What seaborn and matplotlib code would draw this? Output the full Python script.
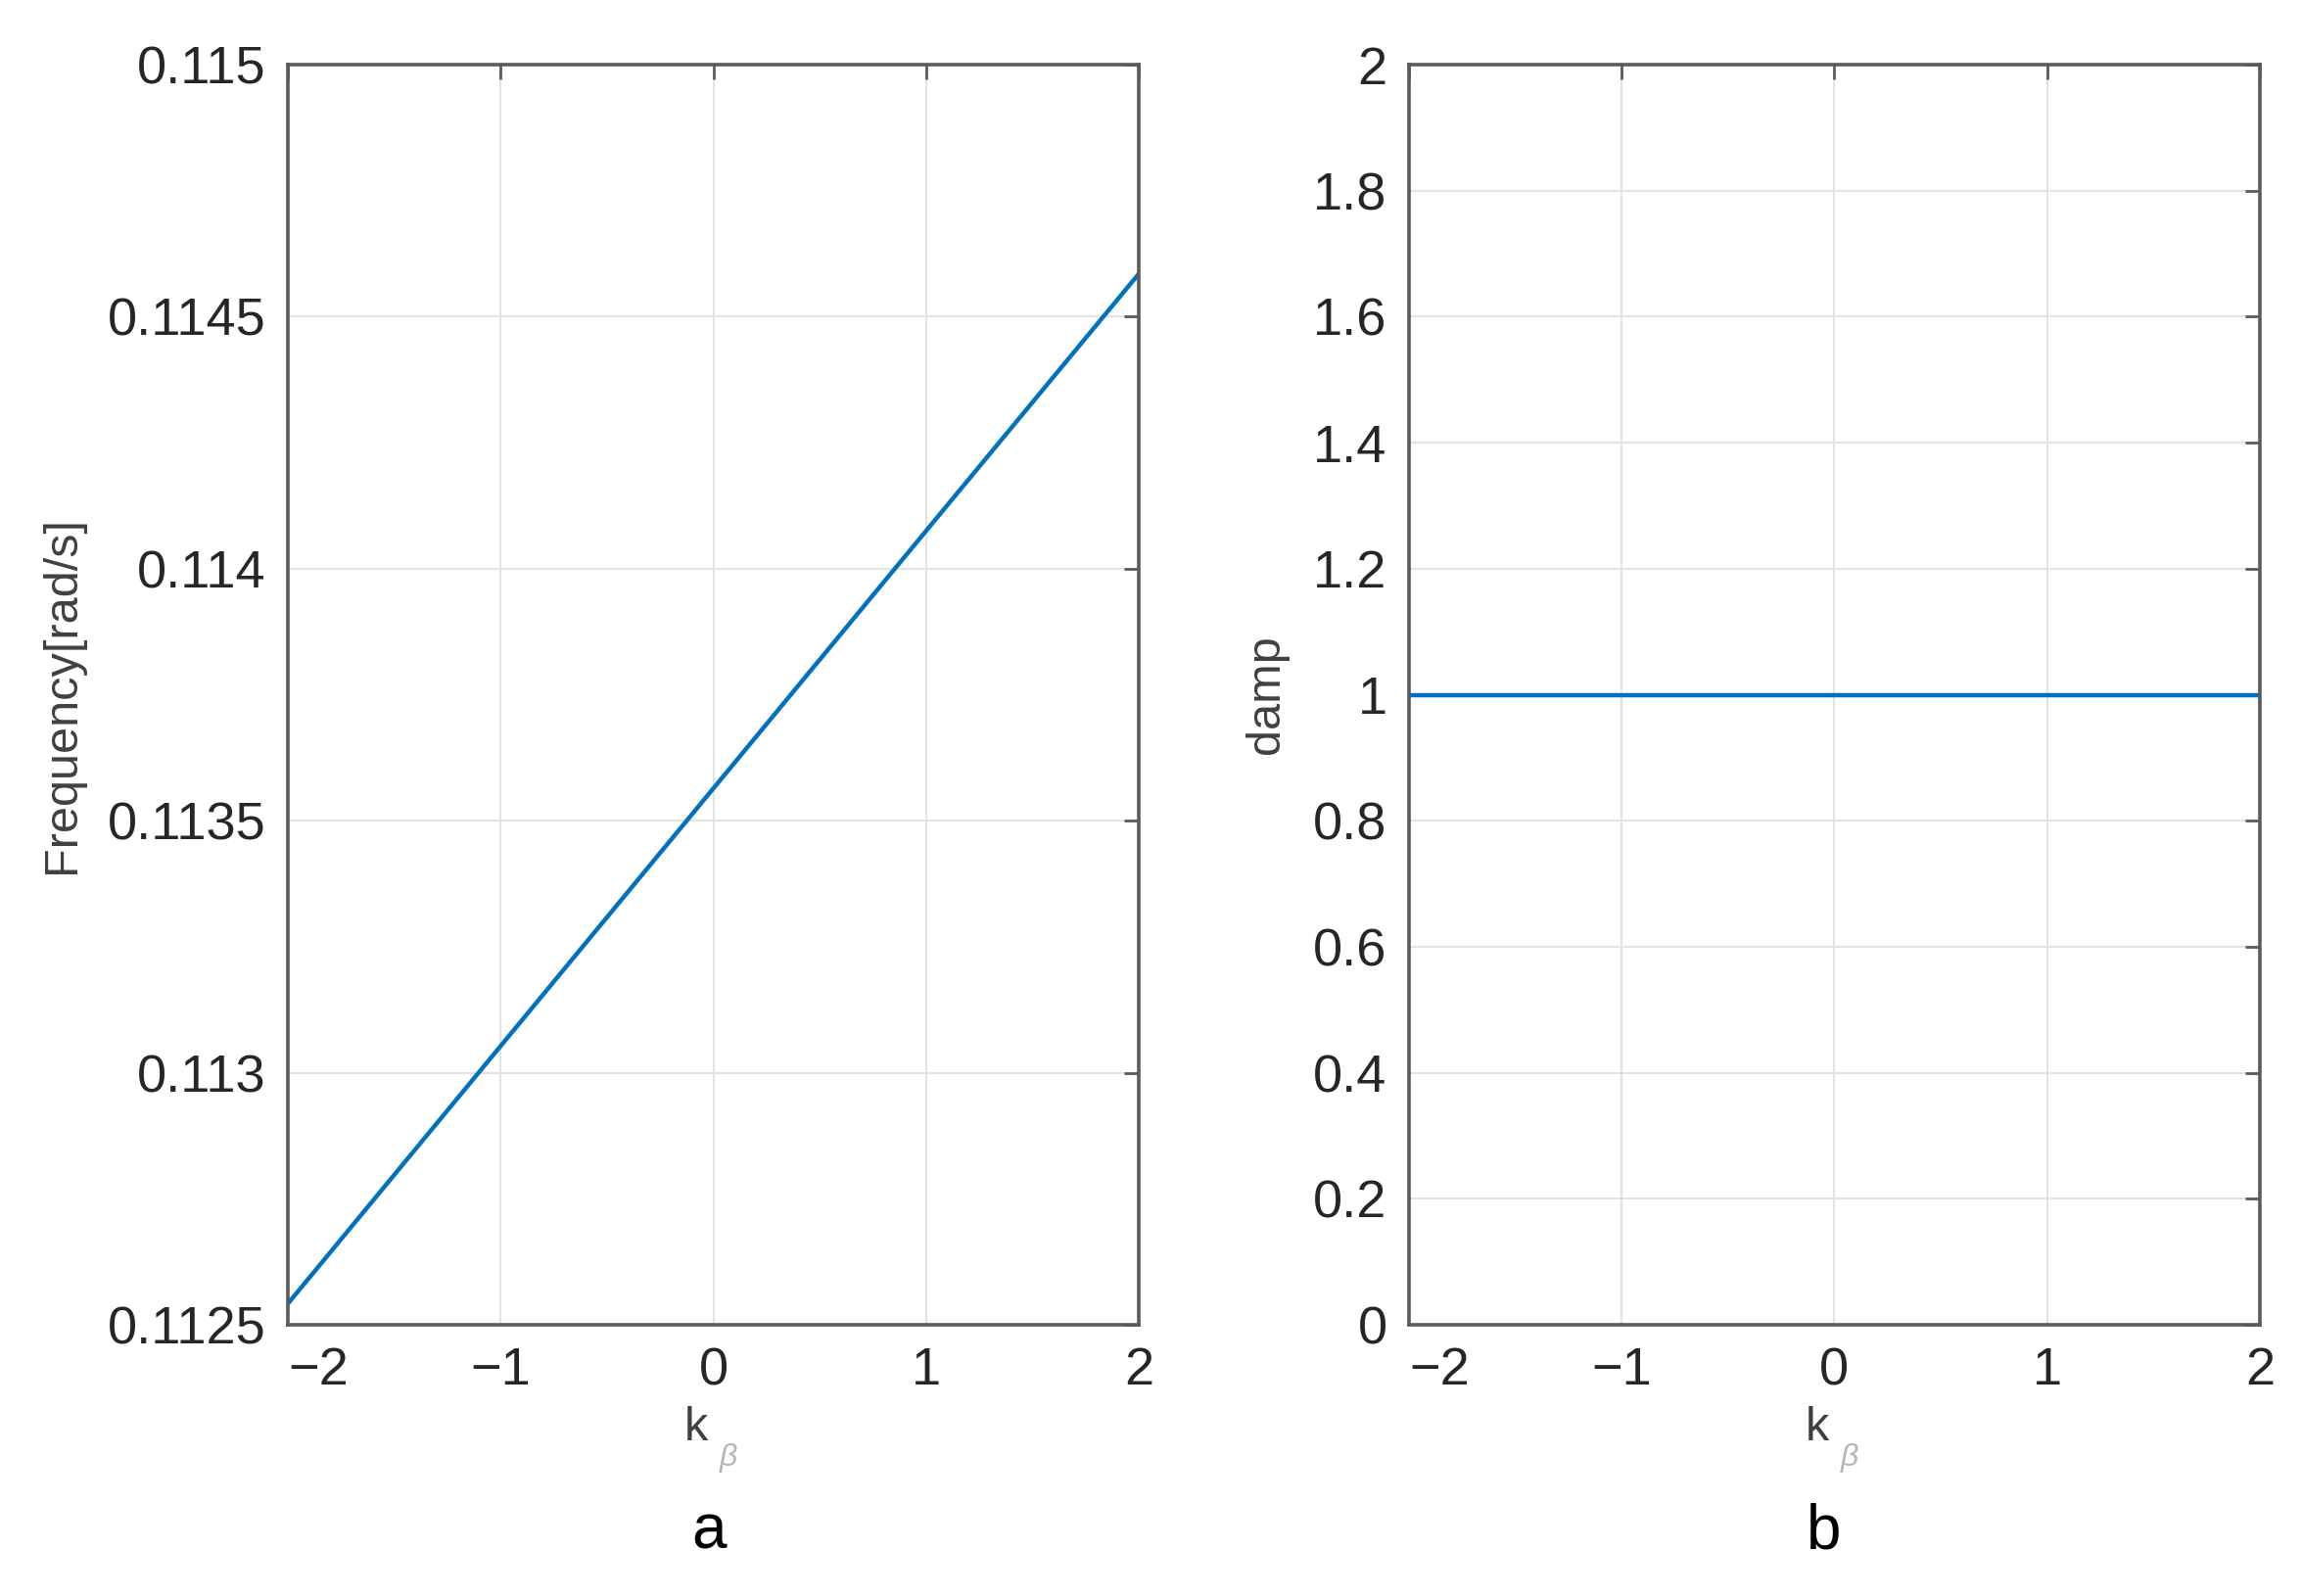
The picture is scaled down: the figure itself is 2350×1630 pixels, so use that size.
import seaborn as sns
import matplotlib.pyplot as plt
import matplotlib.ticker as mticker
import pandas as pd
import numpy as np

# data
k_beta = [-2, -1, 0, 1, 2]
frequency = [0.112542, 0.113053, 0.113564, 0.114075, 0.114585]
damp = [1.0, 1.0, 1.0, 1.0, 1.0]

freq_ticks = [0.1125, 0.113, 0.1135, 0.114, 0.1145, 0.115]
damp_ticks = [0, 0.2, 0.4, 0.6, 0.8, 1, 1.2, 1.4, 1.6, 1.8, 2]
k_ticks = [-2, -1, 0, 1, 2]

df = pd.DataFrame({'k': k_beta, 'freq': frequency, 'damp': damp})

sns.set_style('white')
plt.rcParams['font.family'] = ['Liberation Sans', 'DejaVu Sans']

LINE_BLUE = '#0072BD'
AX_GRAY = '#5a5a5a'
TXT = '#262626'

fig = plt.figure(figsize=(23.5, 16.3), dpi=100)
ax1 = fig.add_axes([0.1251, 0.1699, 0.3698, 0.7896])
ax2 = fig.add_axes([0.6123, 0.1699, 0.3698, 0.7896])

sns.lineplot(data=df, x='k', y='freq', ax=ax1, color=LINE_BLUE, linewidth=3.2)
sns.lineplot(data=df, x='k', y='damp', ax=ax2, color=LINE_BLUE, linewidth=3.2)


def fmt(v, pos):
    return ('%g' % v).replace('-', '\u2212')


for ax, yt, ylim in [(ax1, freq_ticks, (0.1125, 0.115)), (ax2, damp_ticks, (0, 2))]:
    ax.set_xlim(-2, 2)
    ax.set_ylim(*ylim)
    ax.set_xticks(k_ticks)
    ax.set_yticks(yt)
    ax.xaxis.set_major_formatter(mticker.FuncFormatter(fmt))
    ax.yaxis.set_major_formatter(mticker.FuncFormatter(fmt))
    ax.grid(True, color='#e3e3e3', linewidth=1.5)
    ax.set_axisbelow(True)
    ax.tick_params(direction='in', length=11, width=2, color=AX_GRAY,
                   top=True, right=True, labelsize=39, labelcolor=TXT, pad=16)
    for sp in ax.spines.values():
        sp.set_visible(True)
        sp.set_color(AX_GRAY)
        sp.set_linewidth(2.6)
    ax.set_xlabel('')
    ax.set_ylabel('')
    # first x label starts at the left spine, like the source
    fig.canvas.draw()
    ax.get_xticklabels()[0].set_horizontalalignment('left')

# x labels: k with a light grey beta subscript
for ax in (ax1, ax2):
    ax.text(0.48, -0.082, 'k', transform=ax.transAxes, fontsize=35, color='#404040',
            ha='center', va='center')
    ax.text(0.518, -0.106, '\u03b2', transform=ax.transAxes, fontsize=23, color='#b5b5b5',
            ha='center', va='center', style='italic')

ax1.set_ylabel('Frequency[rad/s]', fontsize=35, color='#404040')
ax1.yaxis.set_label_coords(-0.239, 0.5)
ax2.set_ylabel('damp', fontsize=35, color='#404040')
ax2.yaxis.set_label_coords(-0.142, 0.5)

fig.text(0.3081, 0.03, 'a', fontsize=46, ha='center', va='baseline', color='black')
fig.text(0.7925, 0.03, 'b', fontsize=46, ha='center', va='baseline', color='black')

fig.savefig('out.png', dpi=100)
